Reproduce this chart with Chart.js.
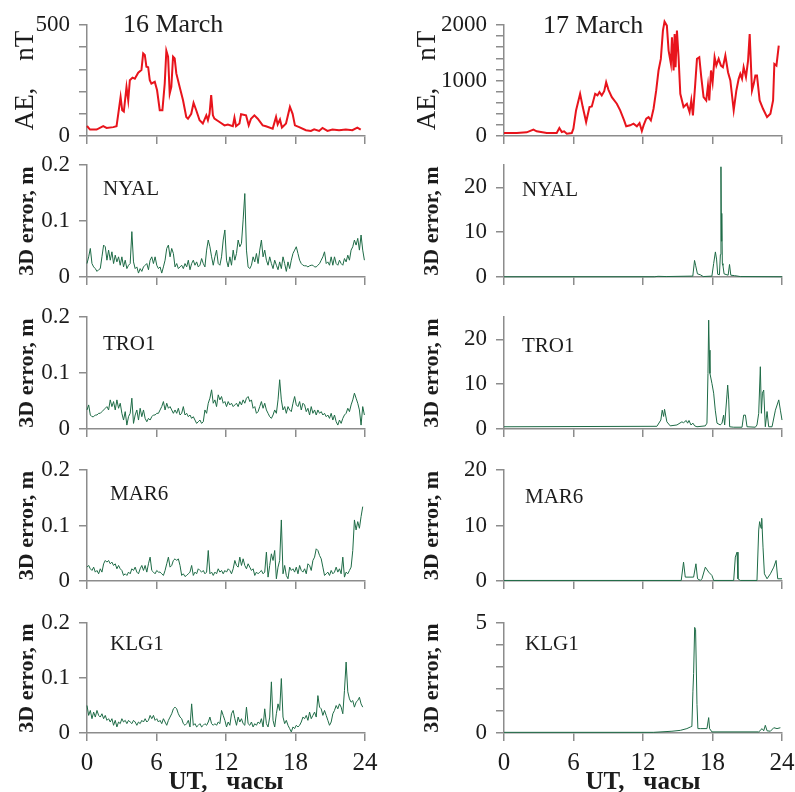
<!DOCTYPE html>
<html><head><meta charset="utf-8">
<script src="https://cdn.jsdelivr.net/npm/chart.js@4/dist/chart.umd.min.js"></script>
<style>
html,body{margin:0;padding:0;background:#fff;width:795px;height:792px;overflow:hidden;}
canvas{position:absolute;}
</style></head><body>
<script>
// ---------------- DATA ----------------
const hourTicks = [0, 6, 12, 18, 24];
const dayTitles = ['16 March', '17 March'];
const stations = ['NYAL', 'TRO1', 'MAR6', 'KLG1'];
const step16 = 0.1434; // hours between samples, 16 March error series

// AE index, nT  [UT hours, value]
const ae16 = [[0,45],[0.26,29],[0.83,29],[1.4,44],[1.69,36],[2.27,40],[2.55,44],[2.7,100],[2.9,176],[3.04,116],[3.18,110],[3.41,221],[3.56,161],[3.7,251],[3.93,263],[4.13,258],[4.42,285],[4.7,297],[4.85,372],[4.99,365],[5.13,312],[5.28,310],[5.42,251],[5.56,236],[5.85,244],[6.05,206],[6.28,116],[6.51,116],[6.71,236],[6.85,384],[7.0,357],[7.14,191],[7.28,221],[7.43,357],[7.57,349],[7.71,282],[8.0,221],[8.29,161],[8.57,86],[8.72,78],[9.0,100],[9.2,149],[9.43,116],[9.72,71],[10.0,56],[10.3,93],[10.44,71],[10.58,100],[10.72,184],[10.87,93],[11.0,78],[11.44,63],[11.87,48],[12.16,52],[12.59,44],[12.73,83],[12.87,44],[13.16,56],[13.3,98],[13.73,93],[13.96,48],[14.16,78],[14.45,93],[14.74,78],[15.17,48],[15.45,44],[16.03,33],[16.32,86],[16.46,52],[16.66,74],[16.83,38],[17.03,48],[17.18,56],[17.52,131],[17.75,100],[17.95,48],[18.32,40],[18.9,26],[19.33,23],[19.61,30],[20.04,23],[20.33,36],[20.76,23],[21.19,29],[21.76,26],[22.34,29],[22.91,26],[23.34,38],[23.63,29]];
const ae17 = [[0,54],[1.1,54],[1.96,66],[2.54,114],[2.82,84],[3.69,54],[4.55,54],[4.78,144],[4.99,72],[5.19,84],[5.42,42],[5.85,54],[5.99,132],[6.22,461],[6.57,760],[6.8,521],[7.09,251],[7.38,521],[7.58,533],[7.87,760],[8.07,731],[8.24,790],[8.44,731],[8.65,808],[8.82,970],[9.02,832],[9.31,700],[9.74,581],[10.03,461],[10.37,281],[10.55,174],[10.89,192],[11.18,222],[11.47,174],[11.7,233],[11.9,90],[12.05,192],[12.28,311],[12.48,341],[12.68,281],[12.91,491],[13.14,820],[13.34,1180],[13.54,1389],[13.72,1898],[13.86,2060],[14.06,1988],[14.21,1539],[14.41,1299],[14.5,1778],[14.64,1180],[14.73,1838],[14.81,1240],[14.93,1898],[15.07,1419],[15.22,760],[15.5,521],[15.79,581],[16.02,431],[16.17,641],[16.31,371],[16.51,940],[16.66,1389],[16.86,1419],[17.03,1060],[17.23,700],[17.46,641],[17.61,910],[17.72,641],[17.87,1180],[18.01,970],[18.18,1419],[18.33,1269],[18.53,1389],[18.73,1269],[18.9,1240],[19.11,1449],[19.34,1150],[19.54,1000],[19.83,461],[20.06,820],[20.26,1030],[20.4,1120],[20.55,1030],[20.69,1240],[20.89,1060],[21.07,1359],[21.21,1838],[21.41,820],[21.56,940],[21.7,1090],[21.84,1090],[22.07,641],[22.36,491],[22.71,341],[23.0,401],[23.23,641],[23.34,1299],[23.52,1269],[23.72,1629]];

// 3D error, m — 16 March (uniform sampling, step16 hours)
const nyal16 = [.024,.036,.051,.024,.018,.015,.010,.013,.015,.036,.057,.054,.030,.048,.030,.045,.024,.039,.027,.036,.021,.036,.018,.030,.015,.021,.024,.081,.027,.015,.018,.007,.015,.010,.018,.021,.024,.013,.030,.036,.024,.036,.021,.015,.018,.007,.018,.030,.051,.057,.036,.051,.042,.018,.024,.015,.018,.021,.015,.024,.018,.030,.013,.024,.030,.021,.027,.018,.021,.033,.024,.018,.048,.066,.054,.036,.021,.036,.048,.024,.021,.036,.066,.084,.030,.018,.036,.021,.048,.030,.042,.066,.054,.060,.102,.149,.048,.018,.015,.021,.036,.027,.042,.024,.048,.066,.036,.048,.030,.021,.036,.024,.015,.030,.021,.013,.027,.015,.036,.024,.010,.027,.015,.030,.042,.048,.054,.042,.030,.024,.021,.020,.020,.018,.020,.021,.021,.018,.018,.021,.024,.030,.036,.045,.024,.027,.021,.036,.021,.036,.024,.021,.030,.024,.021,.033,.027,.039,.030,.048,.054,.066,.057,.069,.048,.075,.048,.030];
const tro116 = [.034,.043,.025,.022,.022,.025,.025,.028,.028,.031,.034,.037,.040,.034,.052,.040,.049,.034,.052,.037,.046,.028,.016,.031,.007,.022,.028,.055,.010,.025,.034,.016,.037,.022,.034,.019,.013,.019,.016,.022,.025,.025,.028,.028,.034,.040,.049,.034,.046,.037,.040,.034,.028,.034,.028,.037,.025,.028,.040,.025,.028,.022,.025,.019,.022,.016,.010,.013,.016,.010,.013,.034,.028,.046,.055,.070,.046,.052,.040,.061,.052,.058,.046,.049,.040,.049,.043,.046,.040,.043,.046,.040,.049,.043,.052,.046,.055,.058,.049,.052,.037,.040,.028,.031,.040,.049,.037,.046,.034,.028,.022,.019,.025,.034,.028,.052,.088,.052,.034,.040,.028,.040,.034,.031,.046,.058,.043,.040,.049,.034,.046,.043,.031,.037,.025,.040,.028,.034,.025,.034,.028,.031,.025,.028,.022,.025,.019,.028,.016,.025,.013,.007,.016,.010,.019,.025,.028,.037,.031,.043,.052,.064,.055,.046,.034,.007,.040,.025];
const mar616 = [.025,.028,.022,.019,.025,.016,.019,.013,.022,.016,.031,.037,.034,.037,.031,.034,.028,.031,.022,.028,.022,.019,.010,.013,.010,.016,.013,.022,.019,.025,.016,.013,.022,.028,.019,.028,.016,.031,.043,.019,.016,.013,.019,.016,.016,.013,.010,.019,.031,.043,.025,.028,.037,.040,.037,.040,.028,.010,.013,.008,.010,.013,.016,.028,.010,.016,.013,.022,.019,.016,.019,.013,.016,.055,.013,.016,.010,.016,.013,.022,.016,.019,.013,.019,.016,.022,.019,.013,.022,.037,.028,.025,.043,.028,.040,.028,.022,.031,.025,.019,.022,.010,.016,.013,.016,.019,.013,.016,.052,.007,.028,.049,.037,.055,.004,.025,.037,.110,.013,.028,.010,.004,.025,.019,.022,.016,.025,.013,.028,.019,.016,.022,.013,.031,.028,.019,.037,.043,.058,.055,.046,.040,.025,.010,.013,.016,.010,.019,.013,.016,.025,.016,.022,.013,.043,.007,.016,.013,.019,.025,.055,.110,.092,.107,.095,.116,.134];
const klg116 = [.050,.032,.041,.026,.038,.029,.041,.032,.029,.035,.026,.032,.023,.026,.020,.026,.014,.023,.011,.020,.017,.026,.020,.023,.017,.023,.020,.017,.023,.020,.014,.020,.017,.023,.020,.026,.020,.023,.032,.026,.032,.023,.026,.020,.023,.017,.026,.020,.014,.023,.029,.035,.044,.047,.044,.035,.029,.026,.017,.014,.017,.023,.011,.053,.014,.017,.011,.014,.017,.011,.014,.017,.014,.020,.029,.017,.014,.017,.014,.020,.017,.041,.032,.023,.011,.020,.014,.035,.041,.026,.014,.029,.020,.026,.017,.014,.047,.017,.014,.020,.011,.017,.014,.020,.017,.026,.011,.044,.017,.011,.029,.093,.023,.011,.035,.053,.041,.099,.029,.017,.023,.014,.008,.002,.011,.008,.014,.011,.014,.020,.029,.026,.032,.023,.038,.026,.032,.038,.029,.068,.047,.044,.032,.041,.032,.023,.014,.020,.035,.041,.050,.044,.053,.047,.035,.077,.129,.075,.062,.056,.059,.047,.056,.059,.065,.053,.047];

// 3D error, m — 17 March  [UT hours, value]
const nyal17 = [[0,0.05],[13.0,0.05],[13.3,0.15],[14.0,0.1],[16.3,0.2],[16.45,3.7],[16.55,2.5],[16.7,0.7],[16.95,0.5],[17.2,0.1],[17.95,0.2],[18.1,3.0],[18.25,5.6],[18.35,4.0],[18.45,0.6],[18.6,0.5],[18.68,5.0],[18.73,24.6],[18.77,8.0],[18.8,14.2],[18.85,3.0],[18.9,2.6],[19.0,0.7],[19.35,0.4],[19.47,2.8],[19.58,0.4],[19.9,0.3],[20.4,0.1],[24,0.05]];
const tro117 = [[0,0.5],[13.2,0.6],[13.54,2.0],[13.66,4.2],[13.78,2.8],[13.86,4.4],[14.06,1.6],[14.35,0.7],[14.93,0.9],[15.36,1.6],[15.5,1.4],[15.73,1.9],[15.85,1.3],[15.97,1.9],[16.14,0.9],[16.31,1.3],[16.46,0.7],[16.66,0.5],[17.38,0.7],[17.52,1.3],[17.61,12.4],[17.67,24.3],[17.72,17.6],[17.78,12.4],[17.95,10.2],[18.1,8.0],[18.24,4.2],[18.39,1.3],[18.67,0.9],[18.82,1.3],[18.96,3.1],[19.05,0.9],[19.25,7.6],[19.31,9.8],[19.4,6.5],[19.48,0.5],[19.83,0.4],[20.55,0.4],[20.69,3.1],[20.84,3.1],[20.98,0.5],[21.7,0.4],[21.84,0.9],[21.99,3.5],[22.13,13.9],[22.22,3.5],[22.31,8.0],[22.42,8.7],[22.56,0.5],[22.71,3.9],[22.85,0.5],[23.14,0.5],[23.43,4.2],[23.72,6.5],[23.86,4.2],[24,2.0]];
const mar617 = [[0,0.1],[15.3,0.1],[15.5,3.4],[15.65,0.7],[16.37,0.7],[16.57,3.1],[16.71,0.4],[16.95,0.1],[17.09,0.4],[17.38,2.5],[17.67,1.6],[17.95,1.0],[18.1,0.1],[19.83,0.1],[19.97,4.3],[20.12,5.2],[20.2,0.4],[20.4,0.1],[21.84,0.1],[21.99,9.2],[22.07,10.7],[22.19,9.5],[22.25,11.3],[22.36,6.1],[22.48,1.3],[22.71,0.4],[23.0,1.3],[23.29,2.5],[23.49,3.7],[23.63,0.4],[24,0.4]];
const klg117 = [[0,0.03],[12.9,0.03],[14.5,0.08],[15.22,0.12],[15.79,0.2],[16.08,0.27],[16.22,0.3],[16.31,1.9],[16.37,2.7],[16.46,4.8],[16.54,4.7],[16.66,1.3],[16.74,0.2],[16.95,0.2],[17.52,0.2],[17.67,0.7],[17.75,0.2],[17.95,0.05],[21.99,0.05],[22.28,0.2],[22.42,0.1],[22.56,0.35],[22.71,0.1],[23.0,0.08],[23.29,0.24],[23.57,0.2],[23.86,0.24]];

// axis ticks
const aeTicks16 = [0,100,200,300,400,500], aeLabels16 = [0,500];
const aeTicks17 = [0,200,400,600,800,1000,1200,1400,1600,1800,2000], aeLabels17 = [0,1000,2000];
const errTicks16 = [0,0.1,0.2];
const errTicks17big = [0,10,20];
const errTicks17small = [0,1,2,3,4,5], errLabels17small = [0,5];

// ---------------- RENDER ----------------
const FONT = '"Liberation Serif", "Times New Roman", serif';
const TXT = '#1c1c1c', AXIS = '#8c8c8c', RED = '#e8141c', GREEN = '#1e6b46';

const panelText = {
  id: 'panelText',
  afterDraw(chart, args, opts) {
    const {ctx, chartArea} = chart;
    (opts.items || []).forEach(it => {
      ctx.save();
      ctx.font = it.font; ctx.fillStyle = TXT;
      ctx.textAlign = 'left'; ctx.textBaseline = 'alphabetic';
      ctx.fillText(it.text, chartArea.left + it.dx, chartArea.top + it.dy);
      ctx.restore();
    });
  }
};
Chart.register(panelText);

const cols = [{left: 0, axisW: 87, padR: 30, titleAE: 10, titleErr: 14},
              {left: 400, axisW: 104, padR: 13, titleAE: 12, titleErr: 19}];
const rows = [{top: 25, bottom: 136}, {top: 165, bottom: 277}, {top: 317, bottom: 429},
              {top: 470, bottom: 581}, {top: 623, bottom: 733}];
const labelPos = [[[16,30],[16,33],[23,30],[23,27]], [[18,31],[18,35],[21,33],[21,27]]];

function series16(vals) { return vals.map((v, i) => ({x: i * step16, y: v})); }
function pairs(arr) { return arr.map(p => ({x: p[0], y: p[1]})); }
function fmtNum(v) { return v === 0 ? '0' : (Math.abs(v) < 1 ? v.toFixed(1) : String(v)); }

function panel(col, row, points, color, bw, yMax, tickVals, labelVals, titleText, items) {
  const C = cols[col], R = rows[row];
  const isBottom = row === 4;
  const padTop = row === 0 ? 24 : 14;
  const xH = isBottom ? 798 - R.bottom : 16;
  const top = R.top - padTop;
  const height = padTop + (R.bottom - R.top) + xH;
  const cv = document.createElement('canvas');
  cv.width = 395; cv.height = height;
  cv.style.left = C.left + 'px'; cv.style.top = top + 'px';
  cv.style.width = '395px'; cv.style.height = height + 'px';
  document.body.appendChild(cv);
  const isAE = row === 0;
  new Chart(cv, {
    type: 'line',
    data: {datasets: [{data: points, borderColor: color, borderWidth: bw, pointRadius: 0,
                       tension: 0, fill: false, clip: false}]},
    options: {
      responsive: false, animation: false, devicePixelRatio: 1,
      events: [],
      layout: {padding: {left: 0, right: C.padR, top: padTop, bottom: 0}},
      plugins: {legend: {display: false}, tooltip: {enabled: false}, panelText: {items}},
      scales: {
        x: {
          type: 'linear', min: 0, max: 24,
          afterFit: s => { s.height = xH; s.paddingLeft = 0; s.paddingRight = 0; },
          afterBuildTicks: s => { s.ticks = hourTicks.map(v => ({value: v})); },
          grid: {display: true, drawOnChartArea: false, drawTicks: true, tickLength: 8, color: AXIS, lineWidth: 1.5},
          border: {display: true, color: AXIS, width: 1.5},
          ticks: {display: isBottom, autoSkip: false, maxRotation: 0, padding: 7, color: TXT,
                  font: {family: FONT, size: 25}, callback: v => String(v)},
          title: {display: isBottom, text: 'UT,   часы', color: TXT,
                  font: {family: FONT, size: 25, weight: 'bold'}, padding: {top: 0, bottom: 0}}
        },
        y: {
          type: 'linear', min: 0, max: yMax,
          afterFit: s => { s.width = C.axisW; s.paddingTop = 0; s.paddingBottom = 0; },
          afterBuildTicks: s => { s.ticks = tickVals.map(v => ({value: v})); },
          grid: {display: true, drawOnChartArea: false, drawTicks: true, tickLength: 8, color: AXIS, lineWidth: 1.5},
          border: {display: true, color: AXIS, width: 1.5},
          ticks: {autoSkip: false, padding: 9, color: TXT, font: {family: FONT, size: 23},
                  callback: v => labelVals.some(l => Math.abs(l - v) < 1e-9) ? fmtNum(v) : ''},
          title: {display: true, text: titleText, color: TXT,
                  font: isAE ? {family: FONT, size: 27} : {family: FONT, size: 22, weight: 'bold'},
                  padding: {top: isAE ? C.titleAE : C.titleErr, bottom: 0}}
        }
      }
    }
  });
}

// Row 1: AE
panel(0, 0, pairs(ae16), RED, 2, 500, aeTicks16, aeLabels16, 'AE,    nT',
      [{text: dayTitles[0], font: '26px ' + FONT, dx: 36, dy: 7}]);
panel(1, 0, pairs(ae17), RED, 2, 2000, aeTicks17, aeLabels17, 'AE,    nT',
      [{text: dayTitles[1], font: '26px ' + FONT, dx: 39, dy: 8}]);

// Rows 2-5: 3D error
const left16 = [nyal16, tro116, mar616, klg116];
const right17 = [nyal17, tro117, mar617, klg117];
const rightMax = [25, 25, 20, 5];
stations.forEach((st, i) => {
  const lp = labelPos[0][i], rp = labelPos[1][i];
  panel(0, i + 1, series16(left16[i]), GREEN, 1, 0.2, errTicks16, errTicks16, '3D error, m',
        [{text: st, font: '21px ' + FONT, dx: lp[0], dy: lp[1]}]);
  const small = rightMax[i] === 5;
  panel(1, i + 1, pairs(right17[i]), GREEN, 1, rightMax[i],
        small ? errTicks17small : errTicks17big, small ? errLabels17small : errTicks17big,
        '3D error, m', [{text: st, font: '21px ' + FONT, dx: rp[0], dy: rp[1]}]);
});
</script>
</body></html>
